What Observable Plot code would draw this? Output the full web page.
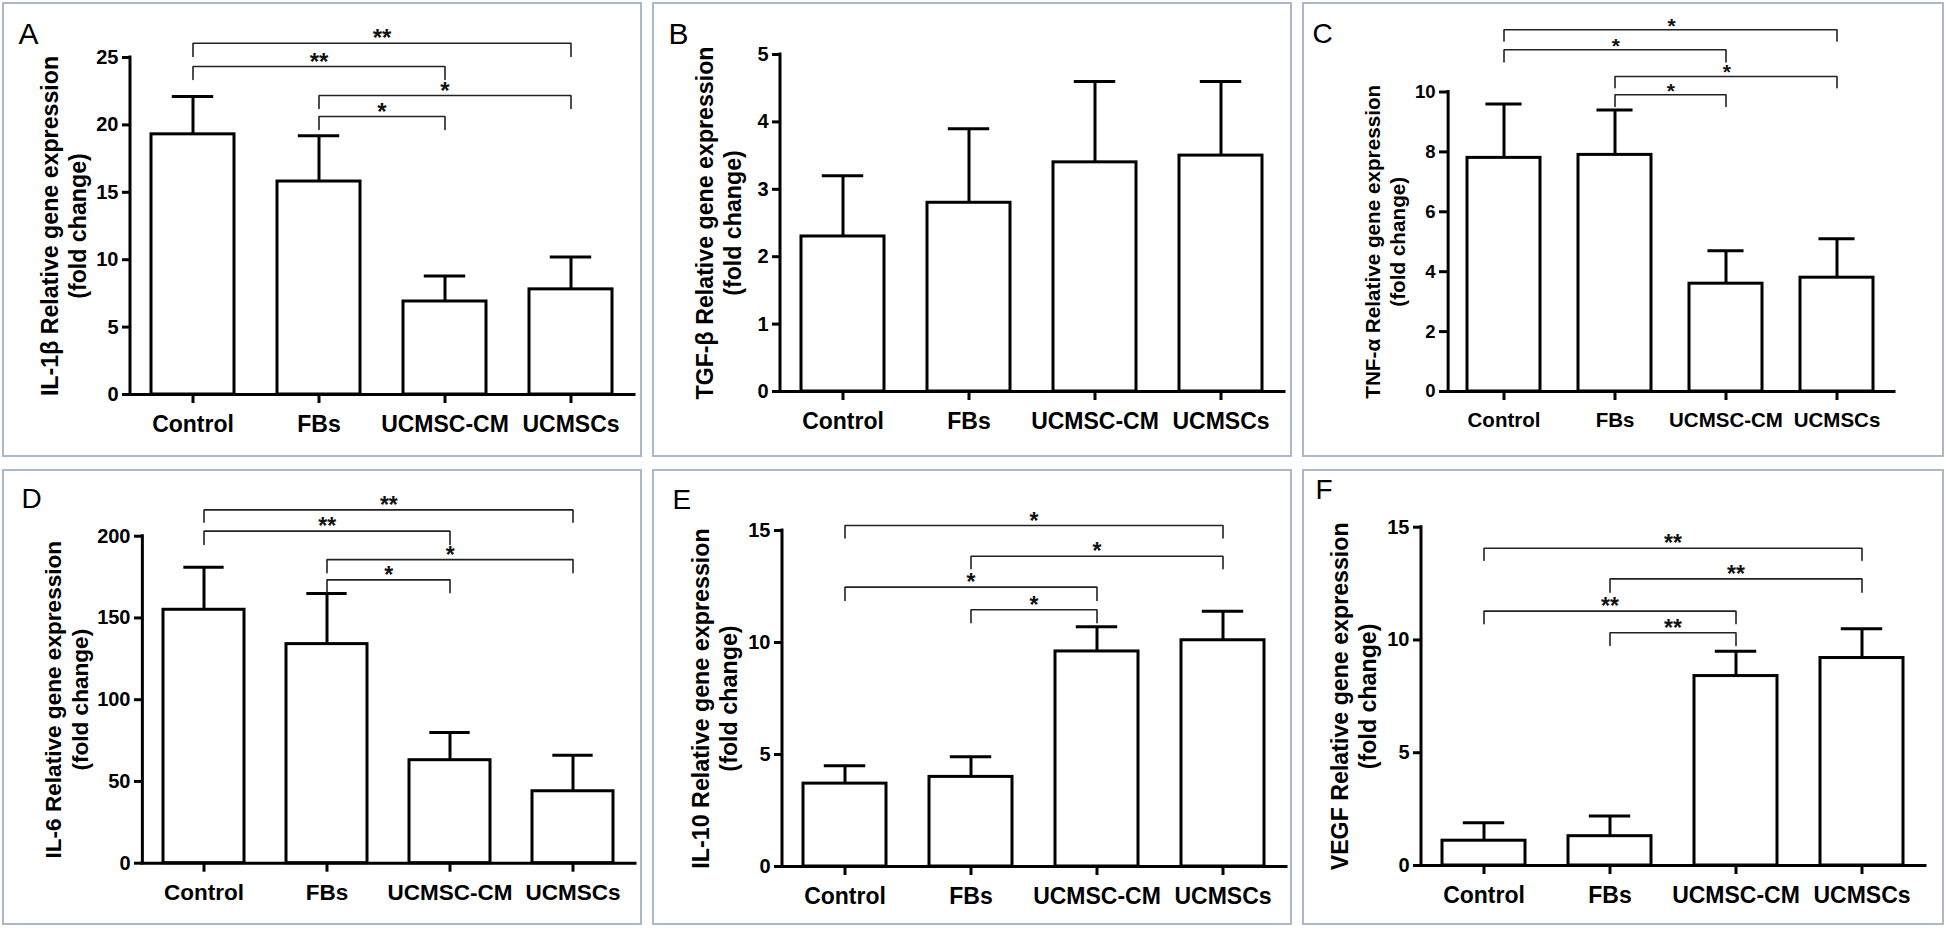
<!DOCTYPE html>
<html>
<head>
<meta charset="utf-8">
<script src="https://cdn.jsdelivr.net/npm/d3@7"></script>
<script src="https://cdn.jsdelivr.net/npm/@observablehq/plot@0.6"></script>
<style>
html, body { margin: 0; padding: 0; background: #fff; }
#fig { position: relative; width: 1946px; height: 929px; overflow: hidden; background: #fff; }
.panel { position: absolute; box-sizing: border-box; border: 2px solid #a9b8cb; background: #fff; }
.panel svg { position: absolute; left: 0; top: 0; overflow: visible; }
.panel g[aria-label="y-axis tick label"] { font-weight: bold; }
</style>
</head>
<body>
<div id="fig"></div>
<script>
// ---------- data ----------
const groups = ["Control", "FBs", "UCMSC-CM", "UCMSCs"];

// A: IL-1β
const il1bMean = [19.3, 15.8, 6.9, 7.8];
const il1bErr  = [22.1, 19.2, 8.8, 10.2];
const il1bTicks = [0, 5, 10, 15, 20, 25];
const il1bFrom  = ["Control", "Control", "FBs", "FBs"];
const il1bTo    = ["UCMSCs", "UCMSC-CM", "UCMSCs", "UCMSC-CM"];
const il1bSig   = ["**", "**", "*", "*"];
const il1bLine  = [26.06, 24.33, 22.18, 20.62];
const il1bDrop  = [25.07, 23.37, 21.22, 19.66];

// B: TGF-β
const tgfbMean = [2.3, 2.8, 3.4, 3.5];
const tgfbErr  = [3.2, 3.9, 4.6, 4.6];
const tgfbTicks = [0, 1, 2, 3, 4, 5];

// C: TNF-α
const tnfaMean = [7.8, 7.9, 3.6, 3.8];
const tnfaErr  = [9.6, 9.4, 4.7, 5.1];
const tnfaTicks = [0, 2, 4, 6, 8, 10];
const tnfaFrom  = ["Control", "Control", "FBs", "FBs"];
const tnfaTo    = ["UCMSCs", "UCMSC-CM", "UCMSCs", "UCMSC-CM"];
const tnfaSig   = ["*", "*", "*", "*"];
const tnfaLine  = [12.08, 11.41, 10.52, 9.91];
const tnfaDrop  = [11.70, 11.00, 10.14, 9.52];

// D: IL-6
const il6Mean = [155, 134, 63, 44];
const il6Err  = [181, 165, 80, 66];
const il6Ticks = [0, 50, 100, 150, 200];
const il6From  = ["Control", "Control", "FBs", "FBs"];
const il6To    = ["UCMSCs", "UCMSC-CM", "UCMSCs", "UCMSC-CM"];
const il6Sig   = ["**", "**", "*", "*"];
const il6Line  = [216.1, 203.1, 185.7, 173.3];
const il6Drop  = [208.6, 194.9, 177.6, 165.4];

// E: IL-10
const il10Mean = [3.7, 4.0, 9.6, 10.1];
const il10Err  = [4.5, 4.9, 10.7, 11.4];
const il10Ticks = [0, 5, 10, 15];
const il10From  = ["Control", "FBs", "Control", "FBs"];
const il10To    = ["UCMSCs", "UCMSCs", "UCMSC-CM", "UCMSC-CM"];
const il10Sig   = ["*", "*", "*", "*"];
const il10Line  = [15.22, 13.85, 12.47, 11.46];
const il10Drop  = [14.67, 13.29, 11.88, 10.88];

// F: VEGF
const vegfMean = [1.1, 1.3, 8.4, 9.2];
const vegfErr  = [1.9, 2.2, 9.5, 10.5];
const vegfTicks = [0, 5, 10, 15];
const vegfFrom  = ["Control", "FBs", "Control", "FBs"];
const vegfTo    = ["UCMSCs", "UCMSCs", "UCMSC-CM", "UCMSC-CM"];
const vegfSig   = ["**", "**", "**", "**"];
const vegfLine  = [14.07, 12.71, 11.28, 10.32];
const vegfDrop  = [13.53, 12.12, 10.72, 9.76];

// ---------- layout (absolute page pixels) ----------
const FONT = "'Liberation Sans', Arial, Helvetica, sans-serif";
const PAD = 0.34;

const panels = [
  {letter: "A", title: ["IL-1β Relative gene expression", "(fold change)"],
   mean: il1bMean, err: il1bErr, ticks: il1bTicks, ymax: 25,
   sig: {from: il1bFrom, to: il1bTo, label: il1bSig, line: il1bLine, drop: il1bDrop},
   box: [2, 2, 640, 455], axisX: 130, axisEnd: 634, yMaxPx: 57, yZeroPx: 394,
   tickFs: 20, catFs: 23, titleFs: 23.2, t1: 57.5, t2: 85, lx: 18, ly: 43, lfs: 30, starFs: 24},
  {letter: "B", title: ["TGF-β Relative gene expression", "(fold change)"],
   mean: tgfbMean, err: tgfbErr, ticks: tgfbTicks, ymax: 5, sig: null,
   box: [652, 2, 640, 455], axisX: 780, axisEnd: 1284, yMaxPx: 54, yZeroPx: 391,
   tickFs: 20, catFs: 23, titleFs: 23.2, t1: 712, t2: 740, lx: 668, ly: 43, lfs: 30, starFs: 24},
  {letter: "C", title: ["TNF-α Relative gene expression", "(fold change)"],
   mean: tnfaMean, err: tnfaErr, ticks: tnfaTicks, ymax: 10,
   sig: {from: tnfaFrom, to: tnfaTo, label: tnfaSig, line: tnfaLine, drop: tnfaDrop},
   box: [1302, 2, 642, 455], axisX: 1447, axisEnd: 1894, yMaxPx: 91.5, yZeroPx: 391,
   tickFs: 18.5, catFs: 20.5, titleFs: 20.7, t1: 1379, t2: 1404, lx: 1312, ly: 42, lfs: 28, starFs: 21},
  {letter: "D", title: ["IL-6 Relative gene expression", "(fold change)"],
   mean: il6Mean, err: il6Err, ticks: il6Ticks, ymax: 200,
   sig: {from: il6From, to: il6To, label: il6Sig, line: il6Line, drop: il6Drop},
   box: [2, 469, 640, 456], axisX: 142, axisEnd: 635, yMaxPx: 535.7, yZeroPx: 862.7,
   tickFs: 20, catFs: 22.5, titleFs: 22.6, t1: 60, t2: 87, lx: 21, ly: 507, lfs: 28, starFs: 23},
  {letter: "E", title: ["IL-10 Relative gene expression", "(fold change)"],
   mean: il10Mean, err: il10Err, ticks: il10Ticks, ymax: 15,
   sig: {from: il10From, to: il10To, label: il10Sig, line: il10Line, drop: il10Drop},
   box: [652, 469, 640, 456], axisX: 782, axisEnd: 1286, yMaxPx: 530, yZeroPx: 866,
   tickFs: 20, catFs: 23, titleFs: 23.3, t1: 708, t2: 736, lx: 672, ly: 508, lfs: 28, starFs: 23},
  {letter: "F", title: ["VEGF Relative gene expression", "(fold change)"],
   mean: vegfMean, err: vegfErr, ticks: vegfTicks, ymax: 15,
   sig: {from: vegfFrom, to: vegfTo, label: vegfSig, line: vegfLine, drop: vegfDrop},
   box: [1302, 469, 642, 456], axisX: 1421, axisEnd: 1925, yMaxPx: 526.7, yZeroPx: 865,
   tickFs: 20, catFs: 23, titleFs: 23.2, t1: 1347, t2: 1375, lx: 1315, ly: 498, lfs: 28, starFs: 23}
];

function makePanel(cfg) {
  const [bx, by, bw, bh] = cfg.box;
  const cl = bx + 2, ct = by + 2, W = bw - 4, H = bh - 4;
  const ml = cfg.axisX - cl, mr = cl + W - cfg.axisEnd;
  const mt = cfg.yMaxPx - ct, mb = ct + H - cfg.yZeroPx;
  const step = (cfg.axisEnd - cfg.axisX) / groups.length;
  const band = step * (1 - PAD);
  const data = groups.map((g, i) => ({g, mean: cfg.mean[i], err: cfg.err[i]}));

  const marks = [
    Plot.barY(data, {x: "g", y: "mean", fill: "white", stroke: "black", strokeWidth: 3, strokeLinejoin: "miter"}),
    Plot.ruleX(data, {x: "g", y1: "mean", y2: "err", stroke: "black", strokeWidth: 3}),
    Plot.tickY(data, {x: "g", y: "err", stroke: "black", strokeWidth: 3, insetLeft: band / 4, insetRight: band / 4}),
    Plot.ruleY([0], {stroke: "black", strokeWidth: 3, strokeLinecap: "square"}),
    Plot.ruleX([groups[0]], {x: d => d, y1: 0, y2: cfg.ymax, dx: -step / 2, stroke: "black", strokeWidth: 3, strokeLinecap: "square"}),
    Plot.axisY({ticks: cfg.ticks, tickFormat: d => String(d), tickSize: 8, tickPadding: 4,
      fontSize: cfg.tickFs, fontWeight: "bold", strokeWidth: 3, label: null}),
    Plot.axisX({tickSize: 9, tickPadding: 12, fontSize: cfg.catFs, fontWeight: "bold", strokeWidth: 3, label: null}),
    Plot.text([cfg.title[0]], {text: d => d, frameAnchor: "left", rotate: -90, textAnchor: "middle", lineAnchor: "bottom",
      dx: cfg.t1 - cfg.axisX, fontSize: cfg.titleFs, fontWeight: "bold"}),
    Plot.text([cfg.title[1]], {text: d => d, frameAnchor: "left", rotate: -90, textAnchor: "middle", lineAnchor: "bottom",
      dx: cfg.t2 - cfg.axisX, fontSize: cfg.titleFs, fontWeight: "bold"}),
    Plot.text([cfg.letter], {text: d => d, frameAnchor: "top-left", textAnchor: "start", lineAnchor: "bottom",
      dx: cfg.lx - cfg.axisX, dy: cfg.ly - cfg.yMaxPx, fontSize: cfg.lfs, fontWeight: "normal"})
  ];

  if (cfg.sig) {
    const s = cfg.sig;
    const pts = [];
    s.from.forEach((f, i) => {
      const t = s.to[i];
      pts.push({id: i, x: f, y: s.drop[i]}, {id: i, x: f, y: s.line[i]},
               {id: i, x: t, y: s.line[i]}, {id: i, x: t, y: s.drop[i]});
    });
    marks.push(Plot.line(pts, {x: "x", y: "y", z: "id", stroke: "#222", strokeWidth: 1.6, strokeLinejoin: "miter"}));
    s.from.forEach((f, i) => {
      const span = groups.indexOf(s.to[i]) - groups.indexOf(f);
      marks.push(Plot.text([{x: f, y: s.line[i], label: s.label[i]}], {
        x: "x", y: "y", text: "label", dx: span * step / 2, dy: 3,
        lineAnchor: "bottom", textAnchor: "middle", fontSize: cfg.starFs, fontWeight: "bold", fill: "#111"
      }));
    });
  }

  const svg = Plot.plot({
    width: W, height: H,
    marginLeft: ml, marginRight: mr, marginTop: mt, marginBottom: mb,
    x: {domain: groups, paddingInner: PAD, paddingOuter: PAD / 2, align: 0.5},
    y: {domain: [0, cfg.ymax]},
    style: {fontFamily: FONT, color: "black", background: "transparent", overflow: "visible"},
    marks
  });

  svg.querySelectorAll('g[aria-label="y-axis tick label"]').forEach(g => {
    g.setAttribute("font-size", cfg.tickFs);
    g.setAttribute("font-weight", "bold");
  });

  const div = document.createElement("div");
  div.className = "panel";
  div.style.left = bx + "px";
  div.style.top = by + "px";
  div.style.width = bw + "px";
  div.style.height = bh + "px";
  div.appendChild(svg);
  document.getElementById("fig").appendChild(div);
}

panels.forEach(makePanel);
</script>
</body>
</html>
